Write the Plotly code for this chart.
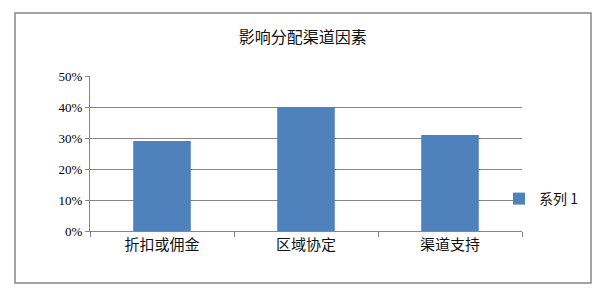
import plotly.graph_objects as go

categories = ["折扣或佣金", "区域协定", "渠道支持"]
values = [0.29, 0.40, 0.31]
series_name = "系列 1"
title_text = "影响分配渠道因素"

W, H = 613, 294
L, R, T, B = 90, 91, 76, 63
pw, ph = W - L - R, H - T - B

def px_x(x):
    return (x - L) / pw

def px_y(y):
    return (H - B - y) / ph

grey = "#868686"
cjk = "Noto Sans CJK SC"

fig = go.Figure()
fig.add_trace(go.Bar(x=categories, y=values, name=series_name,
                     marker=dict(color="#4F81BD", line=dict(width=0)),
                     showlegend=True))

fig.update_layout(
    width=W, height=H,
    margin=dict(l=L, r=R, t=T, b=B),
    paper_bgcolor="white", plot_bgcolor="white",
    bargap=0.6,
    font=dict(family=cjk, color="#111111"),
    title=dict(text=title_text, x=0.494, xanchor="center", y=1 - 37 / H,
               yanchor="middle", font=dict(size=16, family=cjk, color="#111111")),
    showlegend=True,
    legend=dict(x=px_x(499), xanchor="left", y=px_y(199), yanchor="middle",
                font=dict(size=14, family=cjk, color="#111111"),
                bgcolor="rgba(0,0,0,0)", itemwidth=30, tracegroupgap=0),
    xaxis=dict(type="category", tickson="boundaries", ticks="outside",
               ticklen=5, tickcolor=grey, showline=True, linecolor=grey,
               linewidth=1, showgrid=False, tickfont=dict(size=15, family=cjk),
               fixedrange=True),
    yaxis=dict(range=[0, 0.5], dtick=0.1, tickformat=".0%", ticks="outside",
               ticklen=4, tickcolor=grey, showline=True, linecolor=grey,
               linewidth=1, showgrid=True, gridcolor=grey, gridwidth=1,
               zeroline=False,
               tickfont=dict(size=13, family="Liberation Serif", color="#000000"),
               fixedrange=True),
    shapes=[dict(type="rect", xref="paper", yref="paper",
                 x0=px_x(15), x1=px_x(591), y0=px_y(283), y1=px_y(13),
                 line=dict(color=grey, width=1.5), fillcolor="rgba(0,0,0,0)",
                 layer="below")],
)

fig.write_html("out.html")
